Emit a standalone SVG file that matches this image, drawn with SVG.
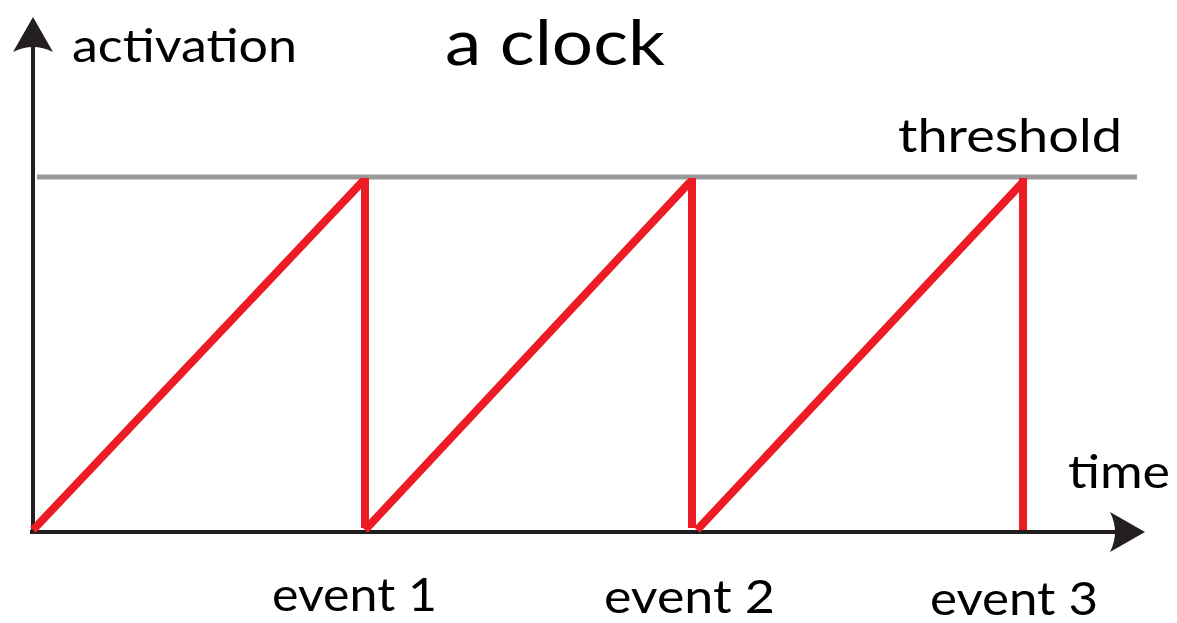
<svg xmlns="http://www.w3.org/2000/svg" width="1177" height="623" viewBox="0 0 1177 623">
<style>
.t{font-family:Lato,"Open Sans","Liberation Sans",sans-serif;fill:#000}
.r{stroke:#ED1C24;stroke-width:8;fill:none;stroke-linecap:butt}
.ax{stroke:#231F20;stroke-width:4;fill:none}
</style>
<rect width="1177" height="623" fill="#fff"/>
<g id="threshold"><line x1="37" y1="177" x2="1137" y2="177" stroke="#999" stroke-width="5"/></g>
<g id="axes">
<line class="ax" x1="33" y1="534" x2="33" y2="40"/>
<path d="M33,17 L53,52 Q33,42 13,52 Z" fill="#231F20"/>
<line class="ax" x1="30" y1="532" x2="1125" y2="532"/>
<path d="M1145,532 L1110,512 Q1120,532 1110,552 Z" fill="#231F20"/>
</g>
<g id="signal">
<path class="r" d="M33,530 L364,180 M365,178 L365,528 M365,530 L690,182 M692,178 L692,528 M697,530 L1023,182 M1023,178 L1023,530"/>
</g>
<g id="labels">
<text class="t" x="72" y="62" font-size="46" textLength="225" lengthAdjust="spacingAndGlyphs">activation</text>
<text class="t" x="445" y="65" font-size="62" textLength="220" lengthAdjust="spacingAndGlyphs">a clock</text>
<text class="t" x="898" y="152" font-size="46" textLength="224" lengthAdjust="spacingAndGlyphs">threshold</text>
<text class="t" x="1068" y="488" font-size="46" textLength="102" lengthAdjust="spacingAndGlyphs">time</text>
<text class="t" x="272" y="611" font-size="46" textLength="165" lengthAdjust="spacingAndGlyphs">event 1</text>
<text class="t" x="604" y="613" font-size="46" textLength="171" lengthAdjust="spacingAndGlyphs">event 2</text>
<text class="t" x="930" y="615" font-size="46" textLength="168" lengthAdjust="spacingAndGlyphs">event 3</text>
</g>
</svg>
